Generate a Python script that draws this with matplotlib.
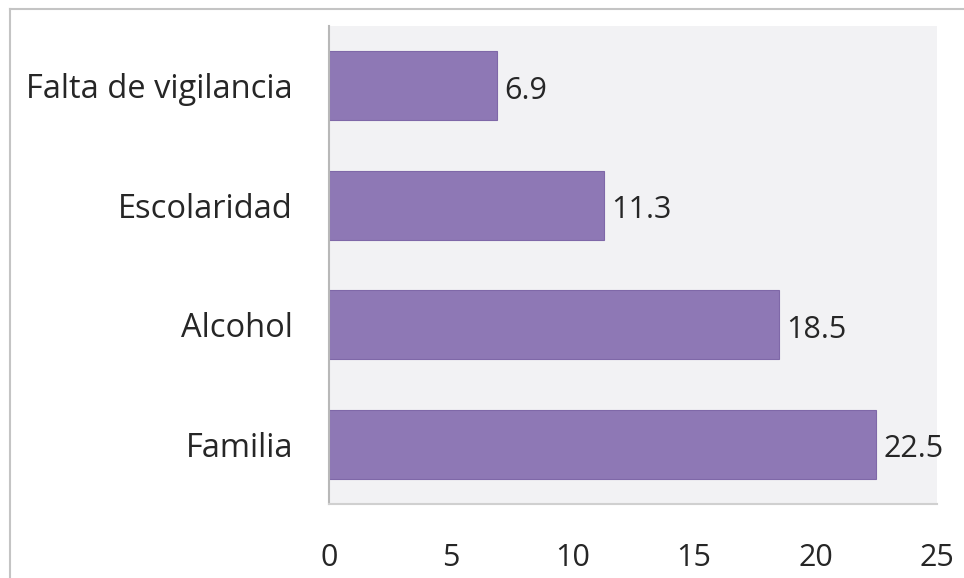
import matplotlib
matplotlib.use("Agg")
import matplotlib.pyplot as plt
from matplotlib.lines import Line2D

categories = ["Falta de vigilancia", "Escolaridad", "Alcohol", "Familia"]
values = [6.9, 11.3, 18.5, 22.5]
xticks = [0, 5, 10, 15, 20, 25]

plt.rcParams['font.family'] = ['Open Sans', 'DejaVu Sans']

fig = plt.figure(figsize=(9.64, 5.78), dpi=100)
fig.patch.set_facecolor('white')
ax = fig.add_axes([329 / 964, 74 / 578, 608 / 964, 478 / 578])
ax.set_facecolor('#f2f2f4')

ypos = list(range(len(categories)))
ax.barh(ypos, values, height=0.58, color='#8e78b5', edgecolor='#7f68a8', linewidth=0.8, zorder=2)

for y, v in zip(ypos, values):
    ax.text(v + 0.3, y + 0.04, f"{v:.1f}", va='center', ha='left', fontsize=22, color='#262626')

ax.set_xlim(0, 25)
ax.set_ylim(3.5, -0.5)
ax.set_yticks(ypos)
ax.set_yticklabels(categories)
ax.set_xticks(xticks)
ax.set_xticklabels([str(t) for t in xticks])
ax.tick_params(axis='both', length=0, labelsize=22, labelcolor='#262626')
ax.tick_params(axis='y', labelsize=23.5, pad=26)
ax.tick_params(axis='x', pad=28)

for side in ('top', 'right'):
    ax.spines[side].set_visible(False)
ax.spines['left'].set_color('#b8b8b8')
ax.spines['left'].set_linewidth(1.5)
ax.spines['bottom'].set_color('#d0d0d0')
ax.spines['bottom'].set_linewidth(1.5)

# outer chart frame (top and left edges)
fig.add_artist(Line2D([10 / 964, 1.0], [1 - 9 / 578, 1 - 9 / 578], transform=fig.transFigure,
                      color='#c4c4c4', linewidth=1.5))
fig.add_artist(Line2D([10 / 964, 10 / 964], [0, 1 - 9 / 578], transform=fig.transFigure,
                      color='#c4c4c4', linewidth=1.5))

fig.savefig('out.png', dpi=100, facecolor='white')
